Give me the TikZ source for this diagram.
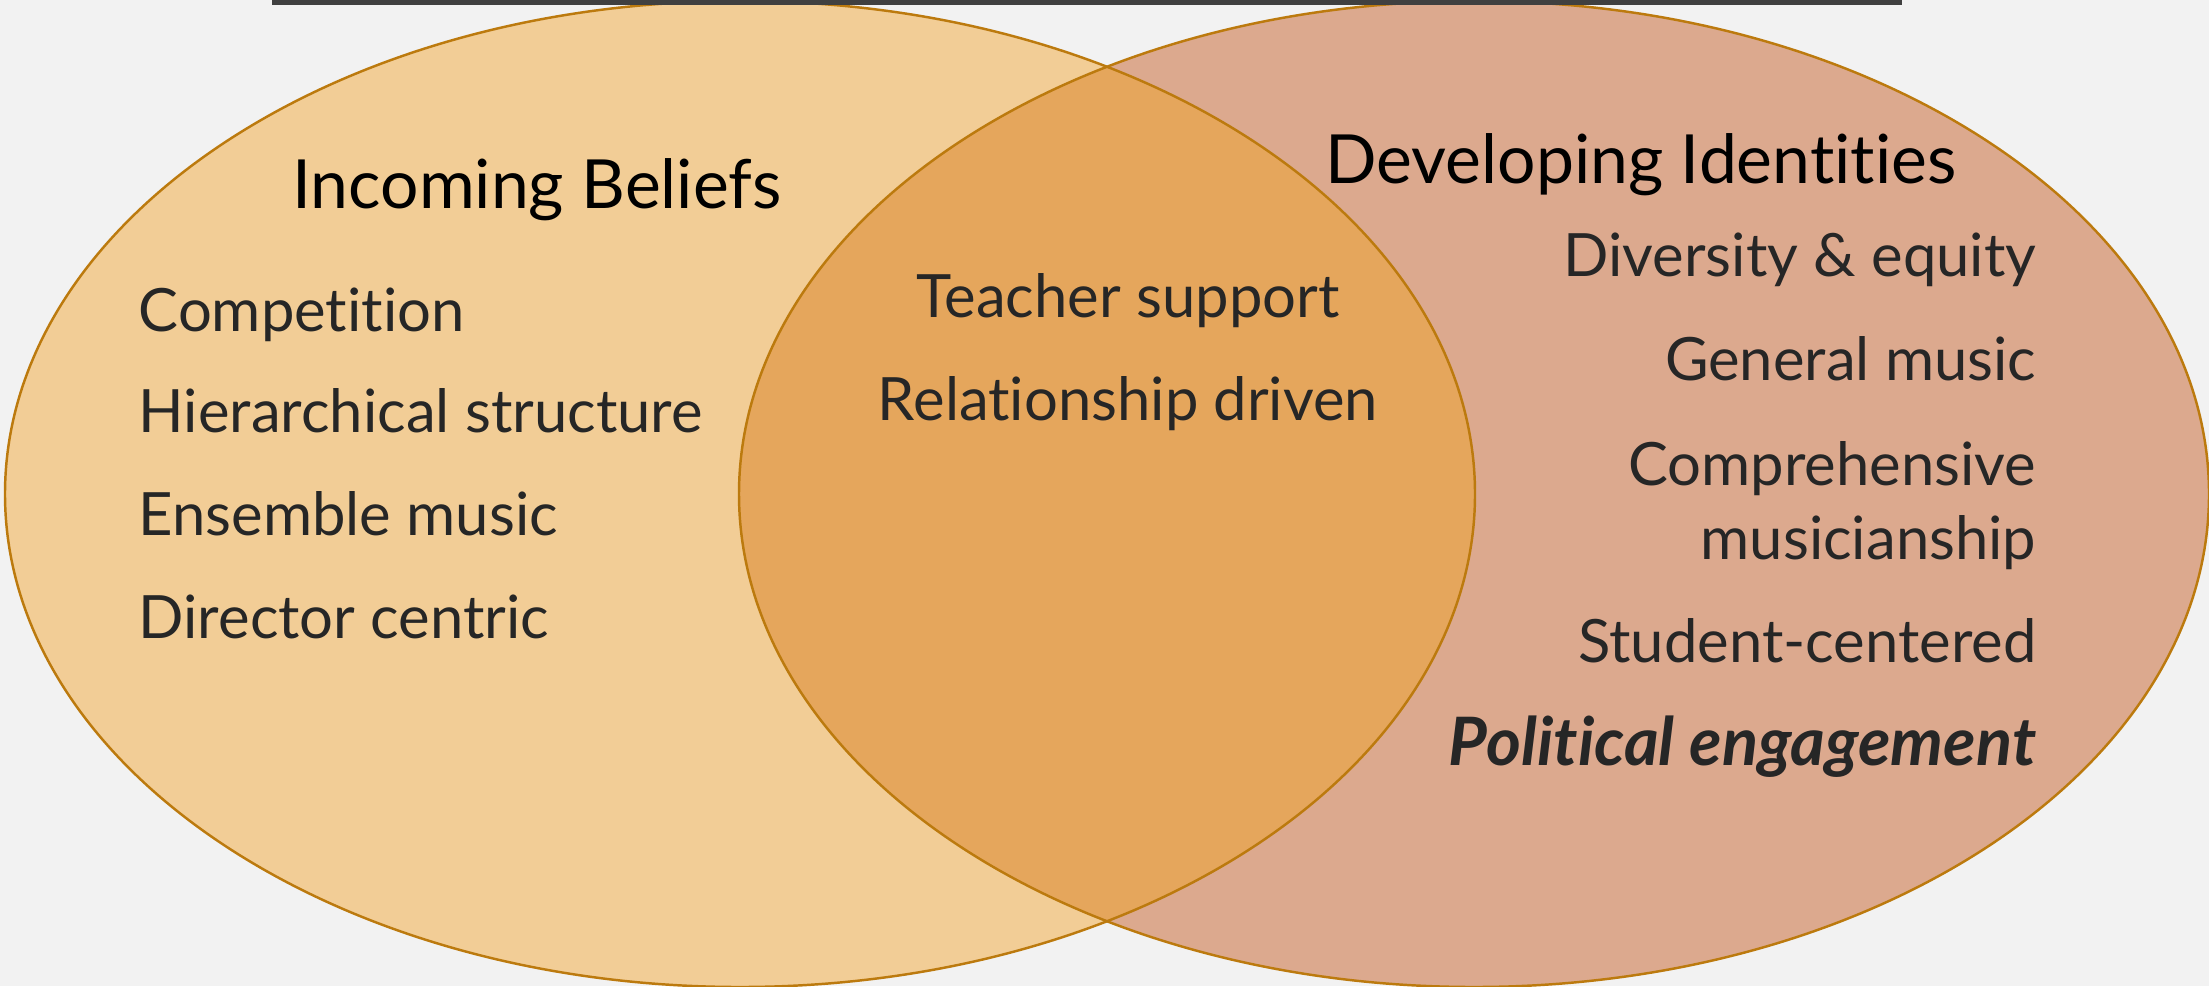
\documentclass[tikz,border=0pt]{standalone}
\usepackage{fontspec}
\setmainfont{Lato}[Ligatures=NoCommon]
\usetikzlibrary{positioning}

\definecolor{fundo}{RGB}{242,242,242}
\definecolor{barra}{RGB}{64,64,64}
\definecolor{contorno}{RGB}{188,122,14}
\definecolor{crencas}{RGB}{242,205,150}
\definecolor{identidades}{RGB}{220,169,142}
\definecolor{comum}{RGB}{229,166,92}
\definecolor{tinta}{RGB}{38,38,38}

\begin{document}
\begin{tikzpicture}[
        x=0.1mm, y=-0.1mm,
        titulo/.style={inner sep=0pt, text=black, font=\fontsize{19.3}{22}\selectfont},
        item/.style={inner sep=0pt, text=tinta, font=\fontsize{17}{20}\selectfont},
        destaque/.style={item, font=\fontsize{19}{22}\selectfont\bfseries\itshape},
        borda/.style={draw=contorno, line width=0.7pt}
    ]

        \useasboundingbox (0,0) rectangle (2209,986);
        \fill[fundo] (0,0) rectangle (2209,986);

        % ==================================================
        % CONJUNTOS
        % ==================================================

        \fill[crencas]     (740,494)  ellipse [x radius=735, y radius=493];
        \fill[identidades] (1474,494) ellipse [x radius=735, y radius=493];

        % Intersecao
        \begin{scope}
            \clip (740,494) ellipse [x radius=735, y radius=493];
            \fill[comum] (1474,494) ellipse [x radius=735, y radius=493];
        \end{scope}

        \draw[borda] (740,494)  ellipse [x radius=735, y radius=493];
        \draw[borda] (1474,494) ellipse [x radius=735, y radius=493];

        \fill[barra] (272,0) rectangle (1902,4.5);

        % ==================================================
        % TEXTOS
        % ==================================================

        % Conjunto da esquerda
        \node[titulo, anchor=base] (tA) at (537,208) {Incoming Beliefs};

        \node[item, anchor=base west] (a1) at (138,331) {Competition};
        \node[item, anchor=base west] (a2) at (138,432) {Hierarchical structure};
        \node[item, anchor=base west] (a3) at (138,535) {Ensemble music};
        \node[item, anchor=base west] (a4) at (138,638) {Director centric};

        % Intersecao
        \node[item, anchor=base] (ab1) at (1128,317) {Teacher support};
        \node[item, anchor=base] (ab2) at (1128,420) {Relationship driven};

        % Conjunto da direita
        \node[titulo, anchor=base] (tB) at (1641,183) {Developing Identities};

        \node[item, anchor=base east] (b1) at (2037,276) {Diversity \& equity};
        \node[item, anchor=base east] (b2) at (2037,380) {General music};
        \node[item, anchor=base east] (b3) at (2037,485) {Comprehensive};
        \node[item, anchor=base east] (b4) at (2037,559) {musicianship};
        \node[item, anchor=base east] (b5) at (2037,662) {Student-centered};
        \node[destaque, anchor=base east] (b6) at (2037,765) {Political engagement};

    \end{tikzpicture}
\end{document}
